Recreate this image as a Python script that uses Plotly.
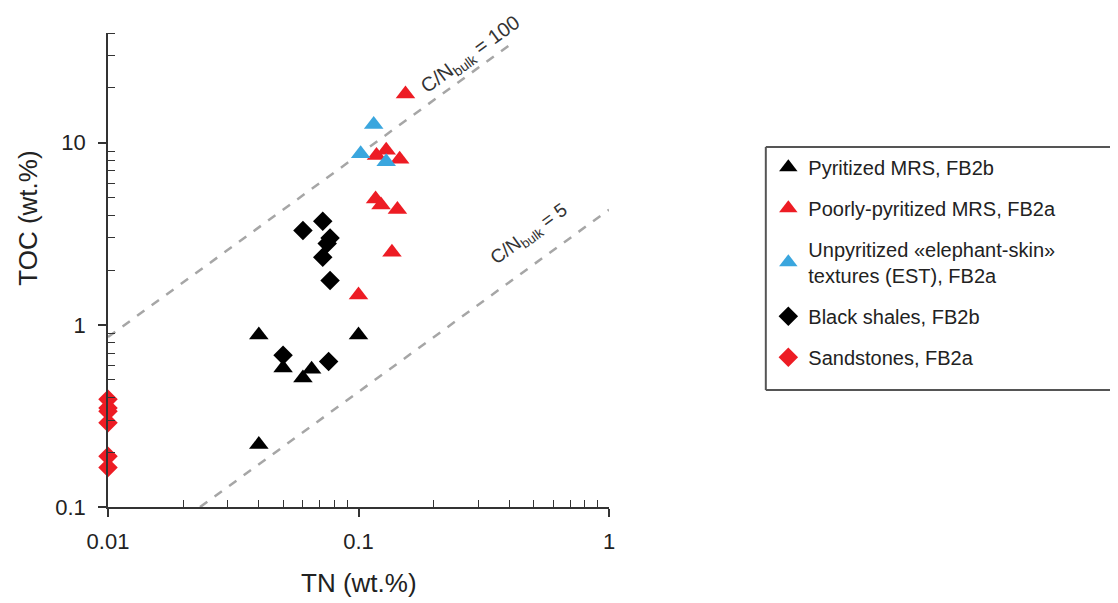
import numpy as np
import plotly.graph_objects as go

# --- data (TN and TOC in wt.%) ---
pyr_tn = [0.04, 0.04, 0.05, 0.06, 0.065, 0.10]
pyr_toc = [0.88, 0.22, 0.58, 0.51, 0.57, 0.88]

poor_tn = [0.154, 0.118, 0.129, 0.146, 0.117, 0.123, 0.143, 0.136, 0.10]
poor_toc = [18.5, 8.5, 9.1, 8.1, 4.9, 4.55, 4.3, 2.5, 1.46]

est_tn = [0.115, 0.102, 0.129]
est_toc = [12.6, 8.7, 7.85]

shale_tn = [0.06, 0.072, 0.077, 0.075, 0.072, 0.077, 0.05, 0.076]
shale_toc = [3.3, 3.7, 3.0, 2.8, 2.35, 1.75, 0.68, 0.63]

sand_tn = [0.01, 0.01, 0.01, 0.01, 0.01, 0.01]
sand_toc = [0.39, 0.35, 0.335, 0.29, 0.19, 0.165]

# C/N (atomic) reference lines -> mass ratio TOC/TN = C/N * 12/14
cn_values = [100, 5]
cn_tn_ranges = [[0.01, 0.41], [0.0233, 1.0]]

x_ticks = [0.01, 0.1, 1]
y_ticks = [0.1, 1, 10]

RED = "#ED1C24"
BLUE = "#3AA6DE"
FONT = "Arial, Liberation Sans, sans-serif"

fig = go.Figure()

for cn, rng in zip(cn_values, cn_tn_ranges):
    tn = np.array(rng)
    fig.add_trace(go.Scatter(
        x=tn, y=tn * cn * 12 / 14, mode="lines",
        line=dict(color="#A6A6A6", width=2.5, dash="dash"),
        showlegend=False, hoverinfo="skip"
    ))

tri = dict(symbol="triangle-up", size=17, line=dict(width=0))
dia = dict(symbol="diamond", size=15, line=dict(width=0))

fig.add_trace(go.Scatter(x=pyr_tn, y=pyr_toc, mode="markers", name="Pyritized MRS, FB2b",
                         legendgroup="a", marker=dict(tri, color="#000000"), cliponaxis=False))
fig.add_trace(go.Scatter(x=poor_tn, y=poor_toc, mode="markers", name="Poorly-pyritized MRS, FB2a",
                         legendgroup="b", marker=dict(tri, color=RED), cliponaxis=False))
fig.add_trace(go.Scatter(x=est_tn, y=est_toc, mode="markers",
                         name="Unpyritized «elephant-skin»<br>textures (EST), FB2a",
                         legendgroup="c", marker=dict(tri, color=BLUE), cliponaxis=False))
fig.add_trace(go.Scatter(x=shale_tn, y=shale_toc, mode="markers", name="Black shales, FB2b",
                         legendgroup="d", marker=dict(dia, color="#000000"), cliponaxis=False))
fig.add_trace(go.Scatter(x=sand_tn, y=sand_toc, mode="markers", name="Sandstones, FB2a",
                         legendgroup="e", marker=dict(dia, color=RED), cliponaxis=False))

# line labels
fig.add_annotation(x=np.log10(0.28), y=np.log10(30.0), xref="x", yref="y",
                   text="C/N<sub>bulk</sub> = 100", textangle=-36, showarrow=False,
                   font=dict(family=FONT, size=20, color="#333333"))
fig.add_annotation(x=np.log10(0.48), y=np.log10(3.1), xref="x", yref="y",
                   text="C/N<sub>bulk</sub> = 5", textangle=-36, showarrow=False,
                   font=dict(family=FONT, size=19, color="#333333"))

# axis titles
fig.add_annotation(x=0.5, y=-0.161, xref="paper", yref="paper", yanchor="middle",
                   text="TN (wt.%)", showarrow=False,
                   font=dict(family=FONT, size=26, color="#222222"))
fig.add_annotation(x=-0.16, y=0.61, xref="paper", yref="paper", xanchor="center",
                   text="TOC (wt.%)", textangle=-90, showarrow=False,
                   font=dict(family=FONT, size=26, color="#222222"))

axis_common = dict(
    type="log", showgrid=False, zeroline=False, showline=True, automargin=False,
    linecolor="#333333", linewidth=1.5,
    ticks="outside", ticklen=8, tickwidth=1.5, tickcolor="#333333",
    tickfont=dict(family=FONT, size=22, color="#222222"),
)

fig.update_xaxes(
    axis_common, range=[-2, 0], tickvals=x_ticks, ticktext=["0.01", "0.1", "1"],
    ticklabelstandoff=6,
    minor=dict(ticks="inside", ticklen=7, tickwidth=1.2, tickcolor="#333333",
               tickvals=[d * m for d in [0.01, 0.1] for m in range(2, 10)]),
)
fig.update_yaxes(
    axis_common, range=[-1, np.log10(40)], tickvals=y_ticks, ticktext=["0.1", "1", "10"],
    ticklabelstandoff=8,
    minor=dict(ticks="inside", ticklen=7, tickwidth=1.2, tickcolor="#333333",
               tickvals=[d * m for d in [0.1, 1, 10] for m in range(2, 10) if d * m <= 40]),
)

# legend frame: top, left and bottom sides only (it runs off the page in the original)
box_x0, box_x1, box_y0, box_y1 = 1.313, 2.02, 0.2468, 0.7595
for x0, y0, x1, y1 in [(box_x0, box_y1, box_x1, box_y1),
                       (box_x0, box_y0, box_x0, box_y1),
                       (box_x0, box_y0, box_x1, box_y0)]:
    fig.add_shape(type="line", xref="paper", yref="paper", x0=x0, y0=y0, x1=x1, y1=y1,
                  line=dict(color="#555555", width=2))

# page body adds ~8px offset, so margins are shifted to land the plot area in place
fig.update_layout(
    width=1118, height=603,
    margin=dict(l=100, r=517, t=25, b=104),
    plot_bgcolor="white", paper_bgcolor="white",
    font=dict(family=FONT, color="#222222"),
    legend=dict(x=1.318, y=0.758, xanchor="left", yanchor="top",
                font=dict(family=FONT, size=20, color="#222222"),
                tracegroupgap=12, bgcolor="rgba(0,0,0,0)", borderwidth=0,
                valign="middle"),
)

fig.write_html("out.html")
